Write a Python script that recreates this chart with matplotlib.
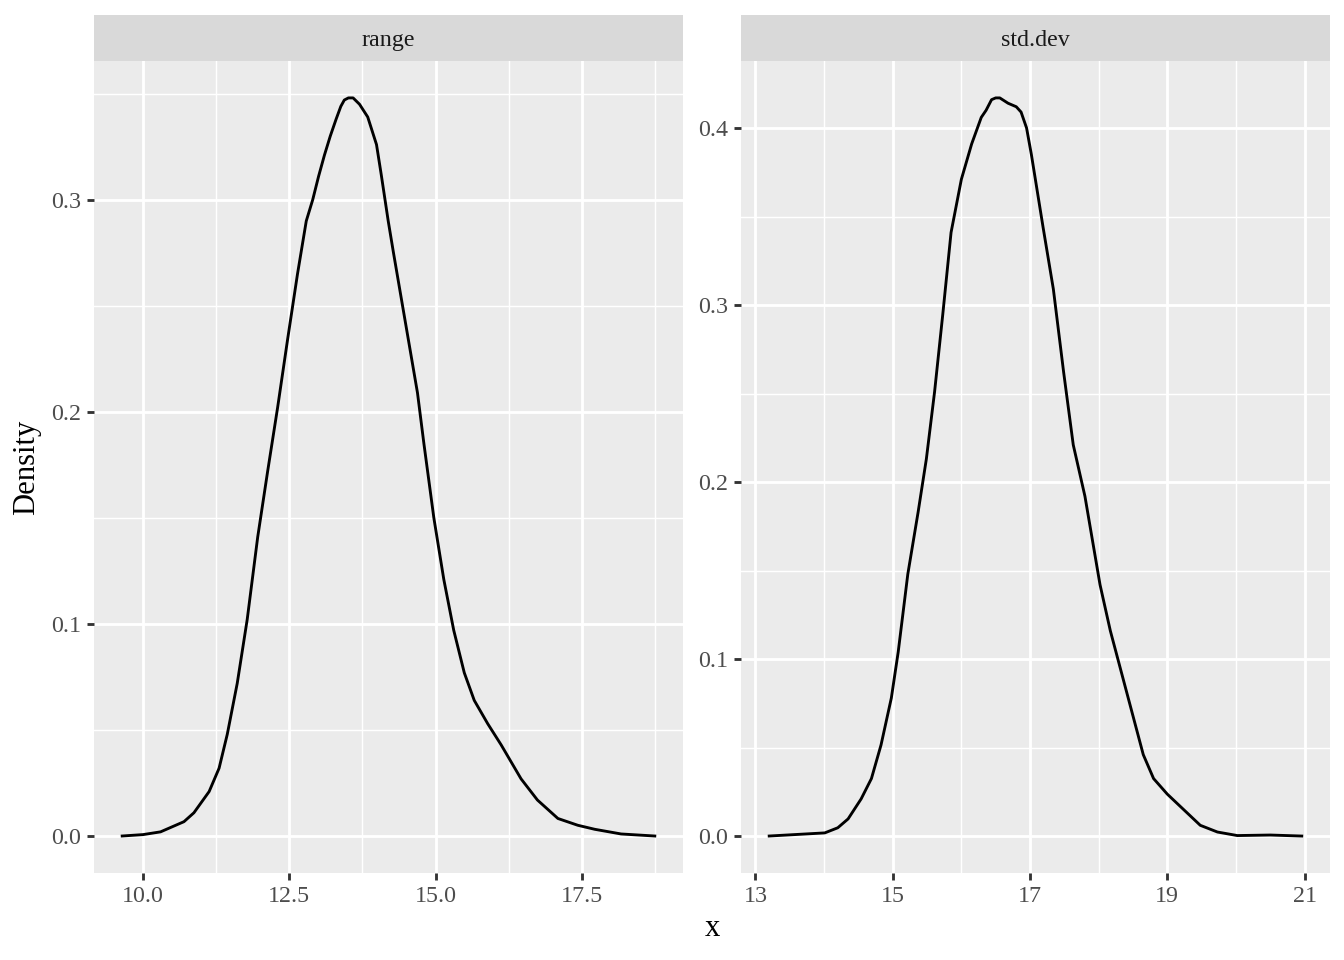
#!/usr/bin/env python3
# -*- coding: utf-8 -*-
"""Faceted density curves (range / std.dev) in a ggplot2 theme_grey look."""

import matplotlib
matplotlib.use("Agg")
import matplotlib.pyplot as plt
from matplotlib.ticker import FixedLocator

# ---- data ----
range_x = [9.62, 10.0, 10.30, 10.70, 10.87, 11.13, 11.30, 11.44, 11.61, 11.78,
           11.96, 12.13, 12.30, 12.47, 12.64, 12.79, 12.90, 13.00, 13.10, 13.20,
           13.30, 13.38, 13.44, 13.51, 13.59, 13.70, 13.84, 13.99, 14.07, 14.19,
           14.28, 14.46, 14.69, 14.80, 14.97, 15.14, 15.31, 15.49, 15.66, 15.89,
           16.12, 16.46, 16.74, 17.09, 17.43, 17.72, 18.17, 18.77]
range_y = [0.0, 0.0007, 0.002, 0.0068, 0.011, 0.021, 0.032, 0.048, 0.072, 0.102,
           0.141, 0.172, 0.202, 0.234, 0.265, 0.290, 0.300, 0.311, 0.321, 0.330,
           0.338, 0.344, 0.347, 0.348, 0.348, 0.345, 0.339, 0.326, 0.312, 0.290,
           0.275, 0.246, 0.209, 0.185, 0.150, 0.121, 0.097, 0.077, 0.064, 0.053,
           0.043, 0.027, 0.017, 0.0083, 0.0051, 0.0032, 0.001, 0.0]

sd_x = [13.18, 14.01, 14.20, 14.35, 14.54, 14.69, 14.83, 14.98, 15.08, 15.22,
        15.37, 15.49, 15.61, 15.73, 15.85, 16.00, 16.15, 16.29, 16.36, 16.44,
        16.50, 16.56, 16.68, 16.80, 16.87, 16.95, 17.02, 17.19, 17.34, 17.49,
        17.63, 17.80, 18.02, 18.17, 18.41, 18.65, 18.80, 19.00, 19.24, 19.48,
        19.73, 20.02, 20.50, 20.98]
sd_y = [0.0, 0.0018, 0.0047, 0.0097, 0.021, 0.0325, 0.0515, 0.078, 0.104, 0.148,
        0.183, 0.213, 0.251, 0.295, 0.341, 0.371, 0.391, 0.406, 0.410, 0.416,
        0.417, 0.417, 0.414, 0.412, 0.409, 0.400, 0.385, 0.344, 0.309, 0.262,
        0.221, 0.192, 0.142, 0.116, 0.081, 0.046, 0.0325, 0.0237, 0.0149, 0.0061,
        0.0023, 0.0003, 0.0006, 0.0]

panel_names = ["range", "std.dev"]

range_xticks = [10.0, 12.5, 15.0, 17.5]
range_xlabels = ["10.0", "12.5", "15.0", "17.5"]
range_xminor = [11.25, 13.75, 16.25, 18.75]
range_yticks = [0.0, 0.1, 0.2, 0.3]
range_ylabels = ["0.0", "0.1", "0.2", "0.3"]
range_yminor = [0.05, 0.15, 0.25, 0.35]

sd_xticks = [13, 15, 17, 19, 21]
sd_xlabels = ["13", "15", "17", "19", "21"]
sd_xminor = [14, 16, 18, 20]
sd_yticks = [0.0, 0.1, 0.2, 0.3, 0.4]
sd_ylabels = ["0.0", "0.1", "0.2", "0.3", "0.4"]
sd_yminor = [0.05, 0.15, 0.25, 0.35]

plt.rcParams['font.family'] = ['Liberation Serif', 'DejaVu Serif']

PANEL_BG = "#EBEBEB"
STRIP_BG = "#D9D9D9"
W, H = 1344, 960


def expand(vals, mult=0.05):
    lo, hi = min(vals), max(vals)
    pad = (hi - lo) * mult
    return lo - pad, hi + pad


def style_panel(ax, xt, xl, xm, yt, yl, ym):
    ax.set_facecolor(PANEL_BG)
    for s in ax.spines.values():
        s.set_visible(False)
    ax.xaxis.set_major_locator(FixedLocator(xt))
    ax.xaxis.set_minor_locator(FixedLocator(xm))
    ax.yaxis.set_major_locator(FixedLocator(yt))
    ax.yaxis.set_minor_locator(FixedLocator(ym))
    ax.set_xticklabels(xl)
    ax.set_yticklabels(yl)
    ax.grid(True, which='major', color='white', linewidth=1.07)
    ax.grid(True, which='minor', color='white', linewidth=0.53)
    ax.set_axisbelow(True)
    ax.tick_params(which='major', length=2.75, width=1.07, color='#333333',
                   labelcolor='#4D4D4D', labelsize=9, pad=2.2)
    ax.tick_params(which='minor', length=0)


fig = plt.figure(figsize=(W / 192, H / 192), dpi=192)

panels = [
    (94, range_x, range_y, (range_xticks, range_xlabels, range_xminor,
                            range_yticks, range_ylabels, range_yminor)),
    (741, sd_x, sd_y, (sd_xticks, sd_xlabels, sd_xminor,
                       sd_yticks, sd_ylabels, sd_yminor)),
]

for name, (left_px, xs, ys, ticks) in zip(panel_names, panels):
    ax = fig.add_axes([left_px / W, 1 - 873 / H, 589 / W, (873 - 61) / H])
    ax.plot(xs, ys, color='black', linewidth=1.07,
            solid_joinstyle='round', solid_capstyle='butt')
    ax.set_xlim(*expand(xs))
    ax.set_ylim(*expand(ys))
    style_panel(ax, *ticks)

    # facet strip
    sax = fig.add_axes([left_px / W, 1 - 61 / H, 589 / W, 46 / H])
    sax.set_facecolor(STRIP_BG)
    sax.set_xticks([]); sax.set_yticks([])
    for s in sax.spines.values():
        s.set_visible(False)
    sax.text(0.5, 0.45, name, ha='center', va='center', fontsize=9,
             color='#1A1A1A', transform=sax.transAxes)

fig.text(712 / W, 1 - 928 / H, "x", ha='center', va='center', fontsize=11.5)
fig.text(27 / W, 1 - 467 / H, "Density", ha='center', va='center',
         rotation=90, fontsize=11.5)

fig.savefig("out.png", dpi=192)
